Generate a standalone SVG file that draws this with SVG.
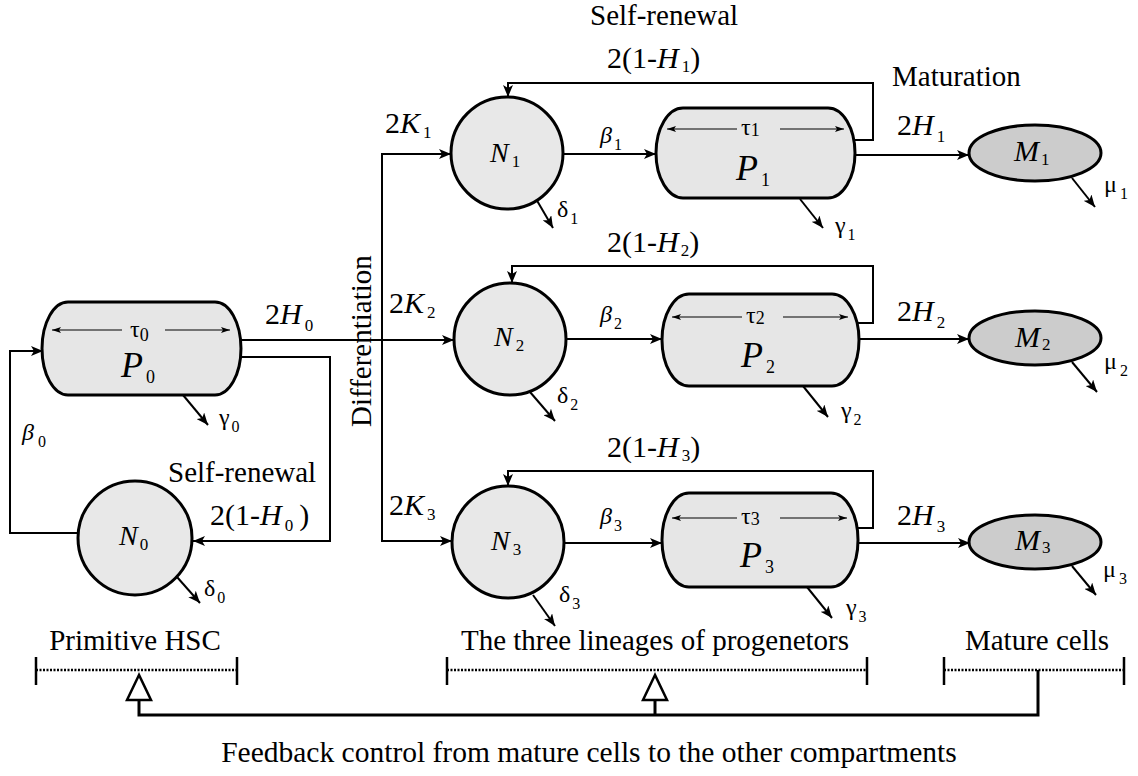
<svg xmlns="http://www.w3.org/2000/svg" width="1138" height="776" viewBox="0 0 1138 776" font-family="Liberation Serif, Times New Roman, serif">
<style>
.lab{font-size:29px}
.fbt{font-size:29.5px}
.big{font-size:30px}
.nl{font-size:28px;font-style:italic}
.pl{font-size:36px;font-style:italic}
.ml{font-size:30px;font-style:italic}
.gr{font-size:24px}
.tau{font-size:24px}
.it{font-style:italic}
.n{fill:#e8e8e8;stroke:#000;stroke-width:3}
.p{fill:#e6e6e6;stroke:#000;stroke-width:3}
.m{fill:#cccccc;stroke:#000;stroke-width:3}
.c{fill:none;stroke:#000;stroke-width:2}
.th{fill:none;stroke:#000;stroke-width:1.2}
.fb{fill:none;stroke:#000;stroke-width:3}
.dot{fill:none;stroke:#000;stroke-width:2.5;stroke-dasharray:2 1.5}
.tick{stroke:#000;stroke-width:2.5}
</style>
<defs>
<marker id="ah" markerWidth="14" markerHeight="10" refX="12" refY="5" orient="auto" markerUnits="userSpaceOnUse"><path d="M0,0 L12,5 L0,10 L3,5 Z" fill="#000"/></marker>
<marker id="ahs" markerWidth="10" markerHeight="8" refX="9" refY="4" orient="auto-start-reverse" markerUnits="userSpaceOnUse"><path d="M0,1 L9,4 L0,7 L2,4 Z" fill="#000"/></marker>
</defs>

<g id="connectors">
<path class="c" d="M240,340 H454" marker-end="url(#ah)"/>
<path class="c" d="M382,340 V154 H451" marker-end="url(#ah)"/>
<path class="c" d="M382,340 V541 H452" marker-end="url(#ah)"/>
<path class="c" d="M238,357 H330 V541 H193" marker-end="url(#ah)"/>
<path class="c" d="M78,533 H10 V351 H43" marker-end="url(#ah)"/>
<path class="c" d="M183,395 L208,425" marker-end="url(#ah)"/>
<path class="c" d="M177,577 L200,603" marker-end="url(#ah)"/>
<path class="c" d="M563,154 H656" marker-end="url(#ah)"/>
<path class="c" d="M855,155 H969" marker-end="url(#ah)"/>
<path class="c" d="M853,140 H873 V83 H508 V97" marker-end="url(#ah)"/>
<path class="c" d="M532,192 L553,228" marker-end="url(#ah)"/>
<path class="c" d="M800,199 L823,228" marker-end="url(#ah)"/>
<path class="c" d="M1072,178 L1095,207" marker-end="url(#ah)"/>
<path class="c" d="M566,339 H662" marker-end="url(#ah)"/>
<path class="c" d="M859,339 H969" marker-end="url(#ah)"/>
<path class="c" d="M857,323 H873 V266 H512 V283" marker-end="url(#ah)"/>
<path class="c" d="M530,392 L555,421" marker-end="url(#ah)"/>
<path class="c" d="M803,386 L828,417" marker-end="url(#ah)"/>
<path class="c" d="M1072,362 L1097,392" marker-end="url(#ah)"/>
<path class="c" d="M564,543 H662" marker-end="url(#ah)"/>
<path class="c" d="M858,543 H970" marker-end="url(#ah)"/>
<path class="c" d="M856,528 H873 V471 H508 V486" marker-end="url(#ah)"/>
<path class="c" d="M533,595 L555,626" marker-end="url(#ah)"/>
<path class="c" d="M807,587 L832,618" marker-end="url(#ah)"/>
<path class="c" d="M1072,566 L1096,595" marker-end="url(#ah)"/>
<path class="fb" d="M1038,670 V715 H139 V700"/>
<path class="fb" d="M655,715 V700"/>
<polygon points="139,675 127,700 151,700" fill="#fff" stroke="#000" stroke-width="2.5"/>
<polygon points="655,675 643,700 667,700" fill="#fff" stroke="#000" stroke-width="2.5"/>
</g>

<g id="P0">
<path class="p" d="M68,302 H215 A26,46.5 0 0 1 215,395 H68 A26,46.5 0 0 1 68,302 Z"/>
<path class="th" d="M122,330 H52" marker-end="url(#ahs)"/>
<path class="th" d="M165,330 H230" marker-end="url(#ahs)"/>
<text class="tau" x="130" y="337">τ<tspan font-size="18" dy="4">0</tspan></text>
<text class="pl" x="121" y="377">P<tspan font-size="18" font-style="normal" dx="3" dy="6">0</tspan></text>
</g>

<g id="N0">
<circle class="n" cx="135" cy="538" r="57"/>
<text class="nl" x="119" y="545">N<tspan font-size="17" font-style="normal" dx="2" dy="5">0</tspan></text>
</g>

<g id="N1">
<circle class="n" cx="507" cy="153" r="56"/>
<text class="nl" x="490" y="162">N<tspan font-size="17" font-style="normal" dx="3" dy="5">1</tspan></text>
</g>
<g id="N2">
<circle class="n" cx="510" cy="339" r="56"/>
<text class="nl" x="494" y="346">N<tspan font-size="17" font-style="normal" dx="3" dy="5">2</tspan></text>
</g>
<g id="N3">
<circle class="n" cx="508" cy="542" r="56"/>
<text class="nl" x="491" y="550">N<tspan font-size="17" font-style="normal" dx="3" dy="5">3</tspan></text>
</g>

<g id="P1">
<path class="p" d="M683,108 H828 A27,45 0 0 1 828,198 H683 A27,45 0 0 1 683,108 Z"/>
<path class="th" d="M737,129 H667" marker-end="url(#ahs)"/>
<path class="th" d="M780,129 H844" marker-end="url(#ahs)"/>
<text class="tau" x="741" y="135">τ<tspan font-size="18" dy="1">1</tspan></text>
<text class="pl" x="736" y="180">P<tspan font-size="18" font-style="normal" dx="3" dy="6">1</tspan></text>
</g>
<g id="P2">
<path class="p" d="M689,294 H832 A27,46 0 0 1 832,386 H689 A27,46 0 0 1 689,294 Z"/>
<path class="th" d="M742,317 H672" marker-end="url(#ahs)"/>
<path class="th" d="M783,317 H848" marker-end="url(#ahs)"/>
<text class="tau" x="746" y="323">τ<tspan font-size="18" dy="1">2</tspan></text>
<text class="pl" x="741" y="367">P<tspan font-size="18" font-style="normal" dx="3" dy="6">2</tspan></text>
</g>
<g id="P3">
<path class="p" d="M689,493 H831 A27,47 0 0 1 831,587 H689 A27,47 0 0 1 689,493 Z"/>
<path class="th" d="M737,518 H672" marker-end="url(#ahs)"/>
<path class="th" d="M780,518 H847" marker-end="url(#ahs)"/>
<text class="tau" x="741" y="524">τ<tspan font-size="18" dy="1">3</tspan></text>
<text class="pl" x="740" y="567">P<tspan font-size="18" font-style="normal" dx="3" dy="6">3</tspan></text>
</g>

<g id="M1">
<ellipse class="m" cx="1035" cy="153" rx="66" ry="28"/>
<text class="ml" x="1014" y="161">M<tspan font-size="17" font-style="normal" dx="2" dy="4">1</tspan></text>
</g>
<g id="M2">
<ellipse class="m" cx="1035" cy="338" rx="66" ry="27"/>
<text class="ml" x="1015" y="347">M<tspan font-size="17" font-style="normal" dx="2" dy="3">2</tspan></text>
</g>
<g id="M3">
<ellipse class="m" cx="1035" cy="542" rx="66" ry="27"/>
<text class="ml" x="1015" y="550">M<tspan font-size="17" font-style="normal" dx="2" dy="3">3</tspan></text>
</g>

<g id="labels">
<text class="lab" x="590" y="25">Self-renewal</text>
<text class="big" x="607" y="68">2(1-<tspan class="it">H</tspan><tspan font-size="17" dx="3" dy="4">1</tspan><tspan dy="-4">)</tspan></text>
<text class="big" x="607" y="252">2(1-<tspan class="it">H</tspan><tspan font-size="17" dx="2" dy="4">2</tspan><tspan dy="-4">)</tspan></text>
<text class="big" x="607" y="457">2(1-<tspan class="it">H</tspan><tspan font-size="17" dx="3" dy="4">3</tspan><tspan dy="-4">)</tspan></text>
<text class="lab" x="892" y="86">Maturation</text>

<text class="big" x="385" y="133">2<tspan class="it">K</tspan><tspan font-size="17" dx="3" dy="5">1</tspan></text>
<text class="big" x="389" y="313">2<tspan class="it">K</tspan><tspan font-size="17" dx="3" dy="5">2</tspan></text>
<text class="big" x="389" y="515">2<tspan class="it">K</tspan><tspan font-size="17" dx="3" dy="5">3</tspan></text>

<text class="big" x="265" y="324">2<tspan class="it">H</tspan><tspan font-size="17" dx="3" dy="7">0</tspan></text>
<text class="big" x="897" y="135">2<tspan class="it">H</tspan><tspan font-size="17" dx="3" dy="7">1</tspan></text>
<text class="big" x="897" y="321">2<tspan class="it">H</tspan><tspan font-size="17" dx="3" dy="7">2</tspan></text>
<text class="big" x="897" y="525">2<tspan class="it">H</tspan><tspan font-size="17" dx="3" dy="7">3</tspan></text>

<text class="gr it" x="600" y="143">β<tspan font-size="16" font-style="normal" dx="2" dy="7">1</tspan></text>
<text class="gr it" x="600" y="322">β<tspan font-size="16" font-style="normal" dx="2" dy="7">2</tspan></text>
<text class="gr it" x="600" y="524">β<tspan font-size="16" font-style="normal" dx="2" dy="7">3</tspan></text>
<text class="gr it" x="22" y="440">β<tspan font-size="16" font-style="normal" dx="4" dy="7">0</tspan></text>

<text class="gr" x="557" y="217">δ<tspan font-size="16" dx="2" dy="7">1</tspan></text>
<text class="gr" x="557" y="403">δ<tspan font-size="16" dx="2" dy="7">2</tspan></text>
<text class="gr" x="559" y="602">δ<tspan font-size="16" dx="2" dy="7">3</tspan></text>
<text class="gr" x="204" y="596">δ<tspan font-size="16" dx="2" dy="7">0</tspan></text>

<text class="gr" x="835" y="233">γ<tspan font-size="16" dx="2" dy="7">1</tspan></text>
<text class="gr" x="841" y="418">γ<tspan font-size="16" dx="2" dy="7">2</tspan></text>
<text class="gr" x="846" y="615">γ<tspan font-size="16" dx="2" dy="7">3</tspan></text>
<text class="gr" x="219" y="425">γ<tspan font-size="16" dx="2" dy="7">0</tspan></text>

<text class="gr" x="1104" y="192">μ<tspan font-size="16" dx="3" dy="7">1</tspan></text>
<text class="gr" x="1104" y="369">μ<tspan font-size="16" dx="3" dy="7">2</tspan></text>
<text class="gr" x="1103" y="577">μ<tspan font-size="16" dx="3" dy="7">3</tspan></text>

<text class="lab" x="168" y="482">Self-renewal</text>
<text class="big" x="210" y="525">2(1-<tspan class="it">H</tspan><tspan font-size="17" dx="3" dy="6">0</tspan><tspan dx="6" dy="-6">)</tspan></text>

<text class="lab" transform="translate(371,427) rotate(-90)">Differentiation</text>

<text class="lab" x="135" y="650" text-anchor="middle">Primitive HSC</text>
<text class="lab" x="655" y="650" text-anchor="middle">The three lineages of progenetors</text>
<text class="lab" x="1037" y="650" text-anchor="middle">Mature cells</text>
<text class="fbt" x="589" y="762" text-anchor="middle">Feedback control from mature cells to the other compartments</text>
</g>

<g id="brackets">
<path class="dot" d="M36,670 H237"/>
<path class="tick" d="M36,657 V685 M237,657 V685"/>
<path class="dot" d="M447,670 H867"/>
<path class="tick" d="M447,657 V685 M867,657 V685"/>
<path class="dot" d="M944,670 H1124"/>
<path class="tick" d="M944,657 V685 M1124,657 V685"/>
</g>
</svg>
